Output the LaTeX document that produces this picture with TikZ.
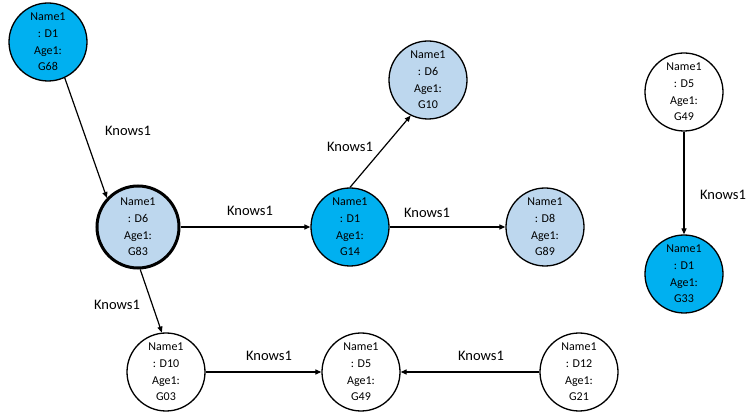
\documentclass[tikz,border=0pt]{standalone}
\usepackage{fontspec}
\setmainfont{Carlito}
\usetikzlibrary{arrows.meta}
\definecolor{brightblue}{HTML}{00B0F0}
\definecolor{paleblue}{HTML}{BDD7EE}
\tikzset{
  person/.style={circle, draw=black, line width=1.3pt, minimum size=78pt, inner sep=0pt,
    align=center, font=\fontsize{12}{16.7}\selectfont},
  hot/.style={person, fill=brightblue},
  pale/.style={person, fill=paleblue},
  plain/.style={person, fill=white},
  rel/.style={draw=black, line width=1.2pt, -{Triangle[length=6pt,width=5pt]}},
  lbl/.style={font=\fontsize{14.5}{16}\selectfont, inner sep=0pt}
}
\begin{document}
\begin{tikzpicture}[x=1pt,y=-1pt]
\useasboundingbox (0,0) rectangle (748,414);
\node[hot]  (A) at (48,42)   {Name1\\: D1\\Age1:\\G68};
\node[pale, line width=3pt, minimum size=82pt] (B) at (138,227) {Name1\\: D6\\Age1:\\G83};
\node[hot]  (C) at (350,227) {Name1\\: D1\\Age1:\\G14};
\node[pale] (D) at (428,80)  {Name1\\: D6\\Age1:\\G10};
\node[pale] (E) at (545,227) {Name1\\: D8\\Age1:\\G89};
\node[plain](F) at (684,92)  {Name1\\: D5\\Age1:\\G49};
\node[hot]  (G) at (684,274) {Name1\\: D1\\Age1:\\G33};
\node[plain](H) at (166,372) {Name1\\: D10\\Age1:\\G03};
\node[plain](I) at (361,372) {Name1\\: D5\\Age1:\\G49};
\node[plain](J) at (579,372) {Name1\\: D12\\Age1:\\G21};

\draw[rel] (A.-65) -- (B.137);
\draw[rel] (B.east) -- (C.west);
\draw[rel] (C.north) -- (D.-116);
\draw[rel] (C.east) -- (E.west);
\draw[rel] (B.-87) -- (H.96);
\draw[rel] (H.east) -- (I.west);
\draw[rel] (J.west) -- (I.east);
\draw[rel] (F.south) -- (G.north);

\node[lbl] (l1) at (128,131) {Knows1};
\node[lbl] (l2) at (250,211) {Knows1};
\node[lbl] (l3) at (350,147) {Knows1};
\node[lbl] (l4) at (427,213) {Knows1};
\node[lbl] (l5) at (117,305) {Knows1};
\node[lbl] (l6) at (269,356) {Knows1};
\node[lbl] (l7) at (481,356) {Knows1};
\node[lbl] (l8) at (723,195) {Knows1};
\end{tikzpicture}
\end{document}
